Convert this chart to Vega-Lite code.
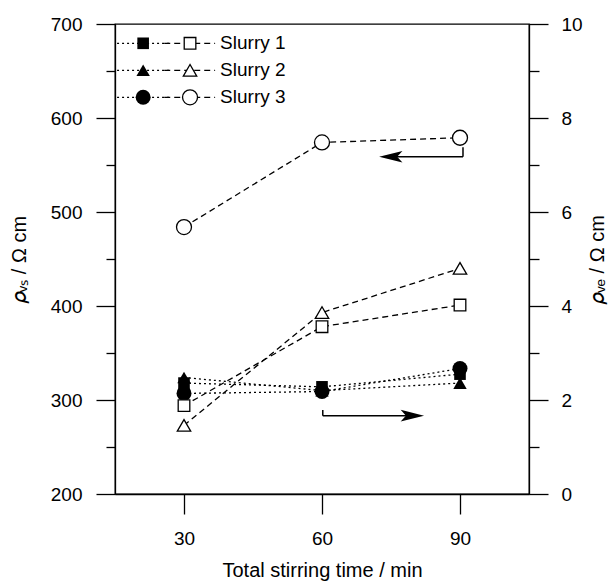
{
  "$schema": "https://vega.github.io/schema/vega-lite/v6.json",
  "width": 414,
  "height": 470,
  "autosize": "none",
  "padding": {"left": 115, "top": 24, "right": 86, "bottom": 89},
  "background": "white",
  "config": {
    "view": {"stroke": "black", "strokeWidth": 1.3},
    "font": "Liberation Sans",
    "axis": {
      "grid": false,
      "domainColor": "black",
      "domainWidth": 1.3,
      "tickColor": "black",
      "tickWidth": 1.3,
      "labelColor": "black",
      "titleColor": "black",
      "labelFont": "Liberation Sans",
      "titleFont": "Liberation Sans",
      "labelFontSize": 19,
      "titleFontSize": 20,
      "titleFontWeight": "normal"
    }
  },
  "datasets": {
    "open": [
      {"time": 30, "series": "Slurry 1", "rho": 294},
      {"time": 60, "series": "Slurry 1", "rho": 378},
      {"time": 90, "series": "Slurry 1", "rho": 401},
      {"time": 30, "series": "Slurry 2", "rho": 273},
      {"time": 60, "series": "Slurry 2", "rho": 393},
      {"time": 90, "series": "Slurry 2", "rho": 440},
      {"time": 30, "series": "Slurry 3", "rho": 484},
      {"time": 60, "series": "Slurry 3", "rho": 574},
      {"time": 90, "series": "Slurry 3", "rho": 579}
    ],
    "filled": [
      {"time": 30, "series": "Slurry 1", "rho": 2.36},
      {"time": 60, "series": "Slurry 1", "rho": 2.28},
      {"time": 90, "series": "Slurry 1", "rho": 2.55},
      {"time": 30, "series": "Slurry 2", "rho": 2.48},
      {"time": 60, "series": "Slurry 2", "rho": 2.2},
      {"time": 90, "series": "Slurry 2", "rho": 2.36},
      {"time": 30, "series": "Slurry 3", "rho": 2.14},
      {"time": 60, "series": "Slurry 3", "rho": 2.18},
      {"time": 90, "series": "Slurry 3", "rho": 2.67}
    ],
    "legend": [
      {"series": "Slurry 1"},
      {"series": "Slurry 2"},
      {"series": "Slurry 3"}
    ],
    "one": [{}]
  },
  "layer": [
    {
      "layer": [
        {
          "data": {"name": "open"},
          "mark": {"type": "line", "color": "black", "strokeWidth": 1.3, "strokeDash": [6, 4]},
          "encoding": {
            "x": {
              "field": "time", "type": "quantitative",
              "scale": {"domain": [15, 105], "nice": false, "zero": false},
              "axis": {
                "values": [30, 60, 90], "tickSize": 20, "labelPadding": 15,
                "title": "Total stirring time / min", "titlePadding": 12
              }
            },
            "y": {
              "field": "rho", "type": "quantitative",
              "scale": {"domain": [200, 700], "nice": false, "zero": false},
              "axis": {
                "orient": "left",
                "values": [200, 250, 300, 350, 400, 450, 500, 550, 600, 650, 700],
                "labelExpr": "datum.value % 100 === 0 ? datum.label : ''",
                "tickSize": {"condition": {"test": "datum.value % 100 === 0", "value": 19}, "value": 9},
                "labelPadding": 14,
                "title": "𝜌ᵥₛ / Ω cm",
                "titlePadding": 21
              }
            },
            "detail": {"field": "series"}
          }
        },
        {
          "data": {"name": "one"},
          "mark": {"type": "rule", "color": "black", "strokeWidth": 1.5},
          "encoding": {"x": {"datum": 90.65}, "y": {"datum": 569}, "y2": {"datum": 558.8}}
        },
        {
          "data": {"name": "one"},
          "mark": {"type": "rule", "color": "black", "strokeWidth": 1.5},
          "encoding": {"x": {"datum": 74.5}, "x2": {"datum": 90.65}, "y": {"datum": 558.8}}
        },
        {
          "data": {"name": "one"},
          "mark": {"type": "point", "filled": true, "color": "black", "opacity": 1, "shape": "M-1,0L1,-0.5L0.55,0L1,0.5Z", "size": 545, "strokeWidth": 0},
          "encoding": {"x": {"datum": 74.95}, "y": {"datum": 558.8}}
        }
      ]
    },
    {
      "layer": [
        {
          "data": {"name": "filled"},
          "mark": {"type": "line", "color": "black", "strokeWidth": 1.3, "strokeDash": [2, 3]},
          "encoding": {
            "x": {"field": "time", "type": "quantitative"},
            "y": {
              "field": "rho", "type": "quantitative",
              "scale": {"domain": [0, 10], "nice": false},
              "axis": {
                "orient": "right",
                "values": [0, 1, 2, 3, 4, 5, 6, 7, 8, 9, 10],
                "labelExpr": "datum.value % 2 === 0 ? datum.label : ''",
                "tickSize": {"condition": {"test": "datum.value % 2 === 0", "value": 19}, "value": 10},
                "labelPadding": 13,
                "title": "𝜌ᵥₑ / Ω cm",
                "titleAngle": 270,
                "titlePadding": 25
              }
            },
            "detail": {"field": "series"}
          }
        },
        {
          "data": {"name": "filled"},
          "mark": {"type": "point", "filled": true, "color": "black", "opacity": 1},
          "encoding": {
            "x": {"field": "time", "type": "quantitative"},
            "y": {"field": "rho", "type": "quantitative"},
            "shape": {"field": "series", "type": "nominal", "scale": {"domain": ["Slurry 1", "Slurry 2", "Slurry 3"], "range": ["square", "triangle-up", "circle"]}, "legend": null},
            "size": {"field": "series", "type": "nominal", "scale": {"domain": ["Slurry 1", "Slurry 2", "Slurry 3"], "range": [135, 225, 210]}, "legend": null}
          }
        },
        {
          "data": {"name": "one"},
          "mark": {"type": "rule", "color": "black", "strokeWidth": 1.5},
          "encoding": {"x": {"datum": 60.17}, "y": {"datum": 1.787}, "y2": {"datum": 1.666}}
        },
        {
          "data": {"name": "one"},
          "mark": {"type": "rule", "color": "black", "strokeWidth": 1.5},
          "encoding": {"x": {"datum": 60.17}, "x2": {"datum": 79.2}, "y": {"datum": 1.666}}
        },
        {
          "data": {"name": "one"},
          "mark": {"type": "point", "filled": true, "color": "black", "opacity": 1, "shape": "M1,0L-1,-0.5L-0.55,0L-1,0.5Z", "size": 545, "strokeWidth": 0},
          "encoding": {"x": {"datum": 79.64}, "y": {"datum": 1.666}}
        }
      ]
    },
    {
      "layer": [
        {
          "data": {"name": "open"},
          "mark": {"type": "point", "filled": true, "fill": "white", "stroke": "black", "strokeWidth": 1.3, "opacity": 1},
          "encoding": {
            "x": {"field": "time", "type": "quantitative"},
            "y": {"field": "rho", "type": "quantitative", "scale": {"domain": [200, 700], "nice": false, "zero": false}, "axis": null},
            "shape": {"field": "series", "type": "nominal", "legend": null},
            "size": {"field": "series", "type": "nominal", "legend": null}
          }
        }
      ]
    },
    {
      "layer": [
        {
          "data": {"name": "legend"},
          "mark": {"type": "rule", "color": "black", "strokeWidth": 1.3, "strokeDash": [2, 3]},
          "encoding": {
            "x": {"datum": 15.45}, "x2": {"datum": 26.8},
            "y": {"field": "series", "type": "nominal", "scale": {"type": "point", "padding": 0, "domain": ["Slurry 1", "Slurry 2", "Slurry 3"], "range": [19.3, 73.3]}, "axis": null}
          }
        },
        {
          "data": {"name": "legend"},
          "mark": {"type": "rule", "color": "black", "strokeWidth": 1.3, "strokeDash": [6, 4]},
          "encoding": {
            "x": {"datum": 25.7}, "x2": {"datum": 36.76},
            "y": {"field": "series", "type": "nominal"}
          }
        },
        {
          "data": {"name": "legend"},
          "mark": {"type": "point", "filled": true, "color": "black", "opacity": 1},
          "encoding": {
            "x": {"datum": 21.12},
            "y": {"field": "series", "type": "nominal"},
            "shape": {"field": "series", "type": "nominal", "legend": null},
            "size": {"field": "series", "type": "nominal", "legend": null}
          }
        },
        {
          "data": {"name": "legend"},
          "mark": {"type": "point", "filled": true, "fill": "white", "stroke": "black", "strokeWidth": 1.3, "opacity": 1},
          "encoding": {
            "x": {"datum": 31.31},
            "y": {"field": "series", "type": "nominal"},
            "shape": {"field": "series", "type": "nominal", "legend": null},
            "size": {"field": "series", "type": "nominal", "legend": null}
          }
        },
        {
          "data": {"name": "legend"},
          "mark": {"type": "text", "align": "left", "baseline": "middle", "fontSize": 19, "font": "Liberation Sans", "color": "black"},
          "encoding": {
            "x": {"datum": 37.85},
            "y": {"field": "series", "type": "nominal"},
            "text": {"field": "series"}
          }
        }
      ]
    }
  ],
  "resolve": {"scale": {"y": "independent"}, "axis": {"y": "independent"}}
}
